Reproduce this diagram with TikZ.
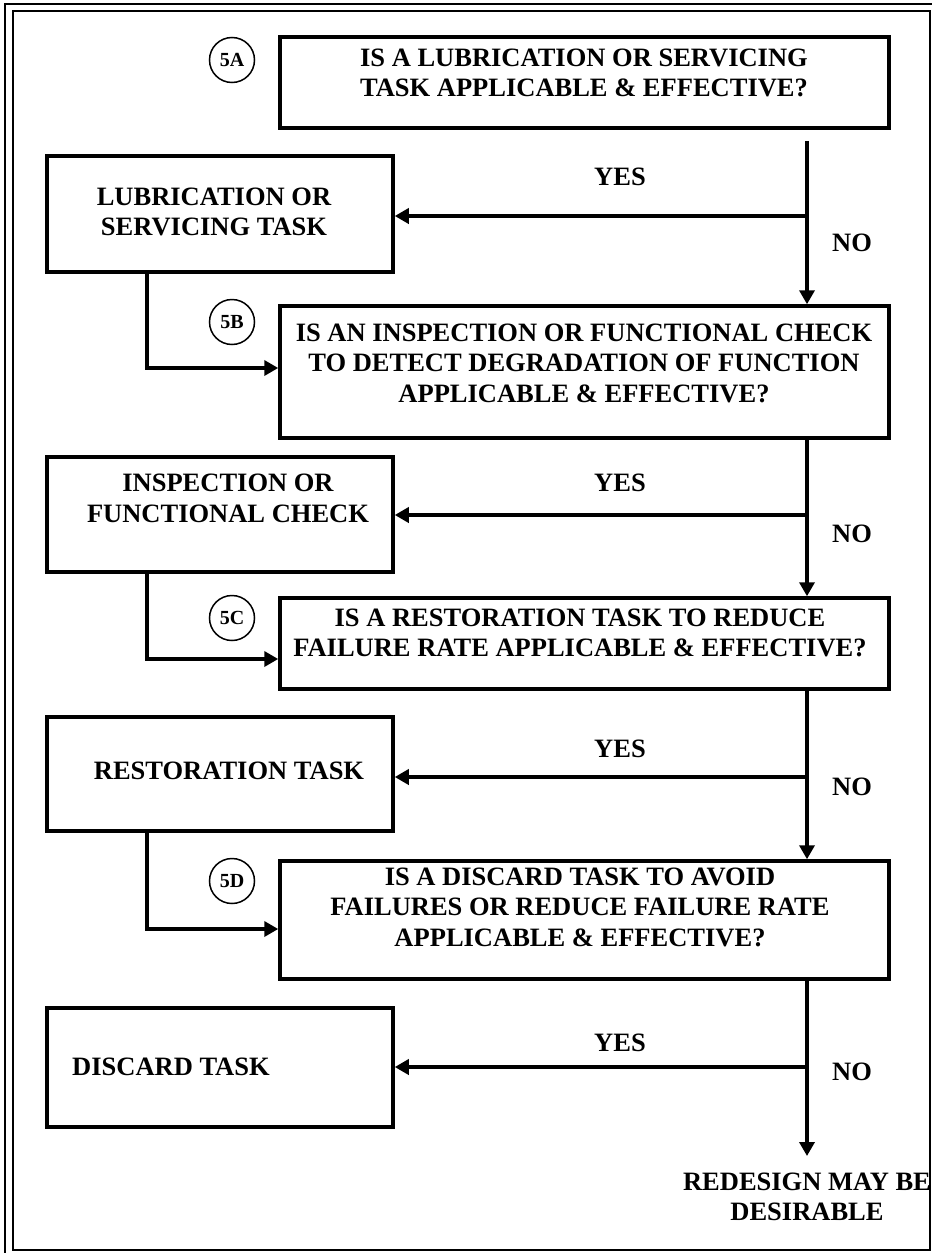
\documentclass[tikz,border=0pt]{standalone}
\usepackage{fontspec}
\setmainfont{Liberation Serif}
\usetikzlibrary{arrows.meta}
\tikzset{
  box/.style={draw, line width=3.5pt, inner sep=0pt},
  txt/.style={font=\bfseries\fontsize{26.5}{30.5}\selectfont, align=center, inner sep=0pt},
  lbl/.style={font=\bfseries\fontsize{26.5}{30.5}\selectfont, inner sep=0pt},
  tag/.style={draw, circle, line width=1.5pt, minimum size=45pt, inner sep=0pt, font=\bfseries\fontsize{20}{22}\selectfont},
  arr/.style={line width=3.5pt, -{Triangle[width=15pt,length=14pt]}},
}
\begin{document}
\begin{tikzpicture}[x=1pt,y=-1pt]
\useasboundingbox (0,0) rectangle (932,1253);
% frame
\draw[line width=2pt] (5,1253) -- (5,4) -- (932,4);
\draw[line width=2.5pt] (13,11) rectangle (930,1250);

% question boxes
\node[box, minimum width=609, minimum height=91] (q5A) at (584.5,82.5) {};
\node[box, minimum width=609, minimum height=132] (q5B) at (584.5,372) {};
\node[box, minimum width=609, minimum height=91] (q5C) at (584.5,643.5) {};
\node[box, minimum width=609, minimum height=118] (q5D) at (584.5,920) {};
% task boxes
\node[box, minimum width=346, minimum height=116] (lub) at (220,214) {};
\node[box, minimum width=346, minimum height=115] (insp) at (220,514.5) {};
\node[box, minimum width=346, minimum height=114] (rest) at (220,774) {};
\node[box, minimum width=346, minimum height=119] (disc) at (220,1067.5) {};

% texts
\node[txt] (t5A) at (584,73) {IS A LUBRICATION OR SERVICING\\TASK APPLICABLE \& EFFECTIVE?};
\node[txt] (t5B) at (584,363) {IS AN INSPECTION OR FUNCTIONAL CHECK\\TO DETECT DEGRADATION OF FUNCTION\\APPLICABLE \& EFFECTIVE?};
\node[txt] (t5C) at (580,633) {IS A RESTORATION TASK TO REDUCE\\FAILURE RATE APPLICABLE \& EFFECTIVE?};
\node[txt] (t5D) at (580,907) {IS A DISCARD TASK TO AVOID\\FAILURES OR REDUCE FAILURE RATE\\APPLICABLE \& EFFECTIVE?};
\node[txt] (tlub) at (214,212) {LUBRICATION OR\\SERVICING TASK};
\node[txt] (tinsp) at (228,498.5) {INSPECTION OR\\FUNCTIONAL CHECK};
\node[txt] (trest) at (229,771) {RESTORATION TASK};
\node[txt, anchor=west] (tdisc) at (72,1067) {DISCARD TASK};

% tags
\node[tag] (c5A) at (232,60) {5A};
\node[tag] (c5B) at (232,322) {5B};
\node[tag] (c5C) at (232,618) {5C};
\node[tag] (c5D) at (232,881) {5D};

% trunk coordinates
\coordinate (v) at (807,0);
\coordinate (j1) at (807,216);
\coordinate (j2) at (807,515);
\coordinate (j3) at (807,777);
\coordinate (j4) at (807,1067);
\coordinate (b1) at (147,368);
\coordinate (b2) at (147,659);
\coordinate (b3) at (147,929);
\coordinate (endpt) at (807,1156);

% NO arrows
\draw[arr] ([yshift=-11pt]q5A.south -| v) -- (q5B.north -| v);
\draw[arr] (q5B.south -| v) -- (q5C.north -| v);
\draw[arr] (q5C.south -| v) -- (q5D.north -| v);
\draw[arr] (q5D.south -| v) -- (endpt);

% YES arrows
\draw[arr] (j1) -- (lub.east |- j1);
\draw[arr] (j2) -- (insp.east |- j2);
\draw[arr] (j3) -- (rest.east |- j3);
\draw[arr] (j4) -- (disc.east |- j4);

% return arrows
\draw[arr] (lub.south -| b1) |- (q5B.west |- b1);
\draw[arr] (insp.south -| b1) |- (q5C.west |- b2);
\draw[arr] (rest.south -| b1) |- (q5D.west |- b3);

% labels
\node[lbl] (y1) at (620,177) {YES};
\node[lbl] (y2) at (620,483) {YES};
\node[lbl] (y3) at (620,749) {YES};
\node[lbl] (y4) at (620,1043) {YES};
\node[lbl] (n1) at (852,243) {NO};
\node[lbl] (n2) at (852,534) {NO};
\node[lbl] (n3) at (852,787) {NO};
\node[lbl] (n4) at (852,1072) {NO};
\node[txt] (red) at (807,1197) {REDESIGN MAY BE\\DESIRABLE};
\end{tikzpicture}
\end{document}
